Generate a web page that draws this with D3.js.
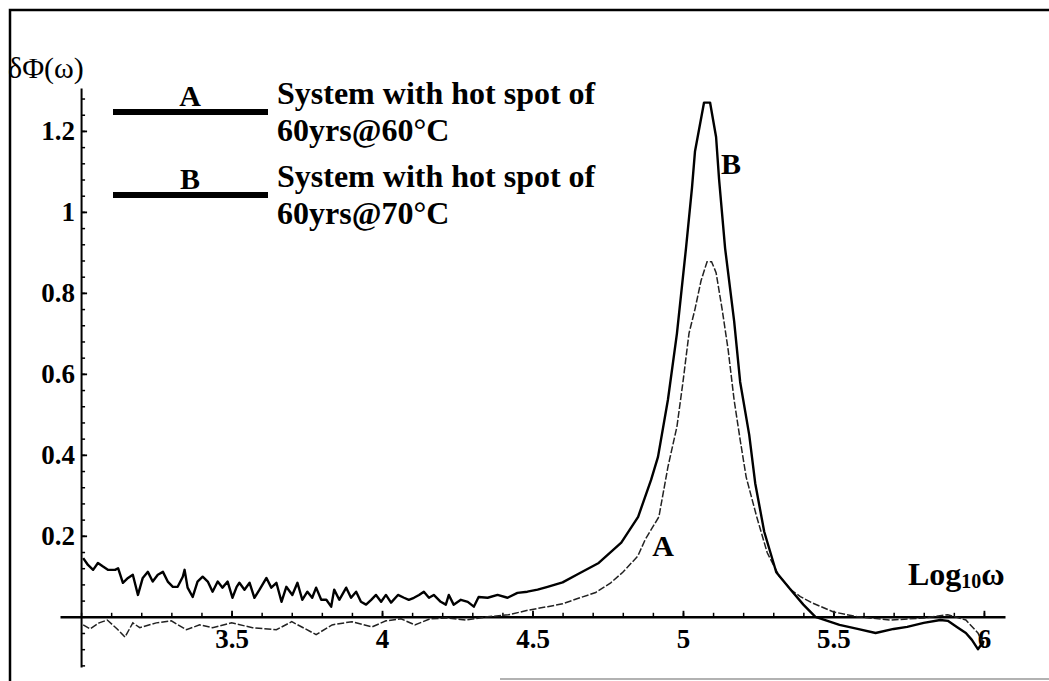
<!DOCTYPE html>
<html>
<head>
<meta charset="utf-8">
<script src="https://cdn.jsdelivr.net/npm/d3@7"></script>
<style>
  body { margin: 0; background: #fff; }
  svg { display: block; }
  text { font-family: "Liberation Serif", "Times New Roman", serif; fill: #000; }
</style>
</head>
<body>
<div id="chart"></div>
<script>
// curve B: hot spot 60yrs@70°C (solid)
var bLogW = [3.007,3.023,3.040,3.056,3.073,3.089,3.113,3.123,3.139,3.156,3.172,3.189,3.205,3.222,3.238,3.255,3.272,3.288,3.305,3.321,3.338,3.344,3.354,3.371,3.387,3.404,3.421,3.437,3.454,3.470,3.487,3.503,3.517,
    3.526,3.543,3.560,3.576,3.593,3.616,3.632,3.649,3.666,3.682,3.702,3.719,3.735,3.752,3.768,3.781,3.798,3.815,3.831,3.841,3.858,3.881,3.897,3.914,3.930,3.947,3.964,3.980,3.997,4.013,4.030,
    4.053,4.073,4.089,4.106,4.123,4.139,4.156,4.172,4.195,4.212,4.222,4.238,4.262,4.285,4.305,4.321,4.351,4.384,4.417,4.450,4.483,4.517,4.550,
    4.60,4.65,4.72,4.795,4.851,4.894,4.917,4.95,4.98,5.01,5.03,5.04,5.07,5.09,5.11,5.12,5.14,5.17,5.19,5.22,5.24,5.27,5.31,5.36,5.40,5.44,5.52,5.58,5.64,5.70,5.745,5.80,5.855,5.88,5.91,5.94,5.96,5.98,6.0];
var bDelta = [0.145,0.128,0.116,0.133,0.124,0.116,0.116,0.120,0.084,0.096,0.104,0.054,0.096,0.111,0.087,0.104,0.111,0.087,0.074,0.074,0.099,0.116,0.072,0.049,0.087,0.099,0.087,0.062,0.087,0.072,0.087,0.047,0.074,
    0.084,0.067,0.084,0.047,0.067,0.096,0.072,0.084,0.037,0.074,0.054,0.084,0.042,0.062,0.047,0.072,0.042,0.042,0.025,0.067,0.042,0.072,0.047,0.062,0.037,0.030,0.042,0.054,0.037,0.054,0.035,
    0.054,0.047,0.042,0.047,0.054,0.062,0.047,0.054,0.037,0.030,0.054,0.030,0.042,0.037,0.025,0.049,0.047,0.054,0.047,0.059,0.062,0.067,0.074,
    0.085,0.105,0.133,0.183,0.247,0.338,0.395,0.536,0.70,0.91,1.06,1.15,1.27,1.27,1.185,1.08,0.91,0.73,0.58,0.45,0.33,0.21,0.11,0.065,0.03,0.0,-0.02,-0.03,-0.04,-0.03,-0.025,-0.015,-0.008,-0.01,-0.025,-0.04,-0.057,-0.08,-0.06];

// curve A: hot spot 60yrs@60°C (thin, broken)
var aLogW = [3.007,3.03,3.06,3.087,3.12,3.146,3.172,3.195,3.25,3.30,3.35,3.394,3.437,3.50,3.57,3.649,3.70,3.781,3.834,3.90,3.967,4.013,4.063,4.109,4.16,4.22,4.28,4.35,4.42,4.49,4.55,4.60,4.65,4.71,4.76,4.80,4.85,4.874,4.92,4.95,4.98,5.00,5.02,5.04,5.06,5.08,5.095,5.11,5.13,5.15,5.17,5.19,5.21,5.245,5.28,5.32,5.36,5.39,5.43,5.50,5.58,5.69,5.80,5.88,5.94,5.98,6.0];
var aDelta = [-0.02,-0.03,-0.015,-0.008,-0.03,-0.05,-0.015,-0.027,-0.015,-0.01,-0.032,-0.02,-0.027,-0.015,-0.027,-0.032,-0.012,-0.044,-0.02,-0.012,-0.025,-0.01,-0.005,-0.02,-0.005,-0.003,-0.008,0.0,0.005,0.017,0.025,0.032,0.045,0.06,0.084,0.11,0.15,0.19,0.247,0.37,0.47,0.58,0.70,0.76,0.83,0.877,0.877,0.85,0.76,0.66,0.535,0.437,0.345,0.247,0.158,0.10,0.066,0.05,0.034,0.012,0.0,-0.008,-0.003,0.005,-0.008,-0.04,-0.07];

var xTickValues = [3.5, 4, 4.5, 5, 5.5, 6];
var xTickLabels = ["3.5", "4", "4.5", "5", "5.5", "6"];
var yTickValues = [0.2, 0.4, 0.6, 0.8, 1, 1.2];
var yTickLabels = ["0.2", "0.4", "0.6", "0.8", "1", "1.2"];
var legendKeys = ["A", "B"];
var legendLines = [["System with hot spot of", "60yrs@60°C"], ["System with hot spot of", "60yrs@70°C"]];

var width = 1049, height = 681;

var svg = d3.select("#chart").append("svg")
    .attr("width", width)
    .attr("height", height);

svg.append("rect").attr("width", width).attr("height", height).attr("fill", "#fff");

// scanned page frame
svg.append("path")
    .attr("d", "M10,681 L10,10 L1049,10")
    .attr("fill", "none").attr("stroke", "#000").attr("stroke-width", 2.5);
svg.append("line")
    .attr("x1", 500).attr("x2", 1049).attr("y1", 679).attr("y2", 679)
    .attr("stroke", "#999").attr("stroke-width", 1.5);

var x = d3.scaleLinear().domain([2.93, 6.07]).range([60, 1005]),
    y = d3.scaleLinear().domain([-0.124, 1.306]).range([667, 88]);

var xMinor = d3.range(30, 61).map(function (i) { return i / 10; });
var yMinor = d3.range(-3, 33).map(function (i) { return Math.round(i * 4) / 100; });

// x axis: ticks pointing up, labels below
var gx = svg.append("g").attr("transform", "translate(0," + y(0) + ")");
gx.call(d3.axisBottom(x).tickValues(xMinor).tickSize(-4).tickSizeOuter(0).tickFormat(""));
gx.select(".domain").attr("stroke-width", 2.6);
gx.selectAll(".tick line").attr("stroke-width", 1.5);

var gx2 = svg.append("g").attr("transform", "translate(0," + y(0) + ")");
gx2.call(d3.axisBottom(x).tickValues(xTickValues).tickSize(-6).tickPadding(12)
    .tickFormat(function (d, i) { return xTickLabels[i]; }));
gx2.select(".domain").remove();
gx2.selectAll(".tick line").attr("stroke-width", 1.8);
gx2.selectAll("text")
    .attr("font-family", "Liberation Serif, serif")
    .attr("font-weight", "bold")
    .attr("font-size", 27);

// y axis: ticks pointing right, labels left
var gy = svg.append("g").attr("transform", "translate(" + x(3) + ",0)");
gy.call(d3.axisLeft(y).tickValues(yMinor).tickSize(-4).tickSizeOuter(0).tickFormat(""));
gy.select(".domain").attr("stroke-width", 2);
gy.selectAll(".tick line").attr("stroke-width", 1.5);

var gy2 = svg.append("g").attr("transform", "translate(" + x(3) + ",0)");
gy2.call(d3.axisLeft(y).tickValues(yTickValues).tickSize(-6).tickPadding(6)
    .tickFormat(function (d, i) { return yTickLabels[i]; }));
gy2.select(".domain").remove();
gy2.selectAll(".tick line").attr("stroke-width", 1.8);
gy2.selectAll("text")
    .attr("font-family", "Liberation Serif, serif")
    .attr("font-weight", "bold")
    .attr("font-size", 27);

// curves
var line = d3.line()
    .x(function (d) { return x(d[0]); })
    .y(function (d) { return y(d[1]); });

svg.append("path")
    .datum(d3.zip(aLogW, aDelta))
    .attr("fill", "none")
    .attr("stroke", "#222")
    .attr("stroke-width", 1.5)
    .attr("stroke-dasharray", "7,2")
    .attr("d", line);

svg.append("path")
    .datum(d3.zip(bLogW, bDelta))
    .attr("fill", "none")
    .attr("stroke", "#000")
    .attr("stroke-width", 2.4)
    .attr("stroke-linejoin", "round")
    .attr("d", line);

// curve labels
svg.append("text").attr("x", 663).attr("y", 556)
    .attr("text-anchor", "middle").attr("font-weight", "bold").attr("font-size", 30).text("A");
svg.append("text").attr("x", 731).attr("y", 174)
    .attr("text-anchor", "middle").attr("font-weight", "bold").attr("font-size", 30).text("B");

// axis titles
svg.append("text").attr("x", 8).attr("y", 78)
    .attr("font-size", 30).text("δΦ(ω)");

var xt = svg.append("text").attr("x", 908).attr("y", 585)
    .attr("font-weight", "bold").attr("font-size", 32);
xt.append("tspan").text("Log");
xt.append("tspan").attr("font-size", 20).attr("dy", 3).text("10");
xt.append("tspan").attr("dy", -3).text("ω");

// legend
var legend = svg.append("g");
legendKeys.forEach(function (k, i) {
    var ly = 112 + i * 83;
    legend.append("line")
        .attr("x1", 113).attr("x2", 268).attr("y1", ly).attr("y2", ly)
        .attr("stroke", "#000").attr("stroke-width", 6);
    legend.append("text")
        .attr("x", 190).attr("y", ly - 6)
        .attr("text-anchor", "middle").attr("font-weight", "bold").attr("font-size", 30)
        .text(k);
    legendLines[i].forEach(function (t, j) {
        legend.append("text")
            .attr("x", 277).attr("y", ly - 8 + j * 37)
            .attr("font-weight", "bold").attr("font-size", 32)
            .text(t);
    });
});
</script>
</body>
</html>
